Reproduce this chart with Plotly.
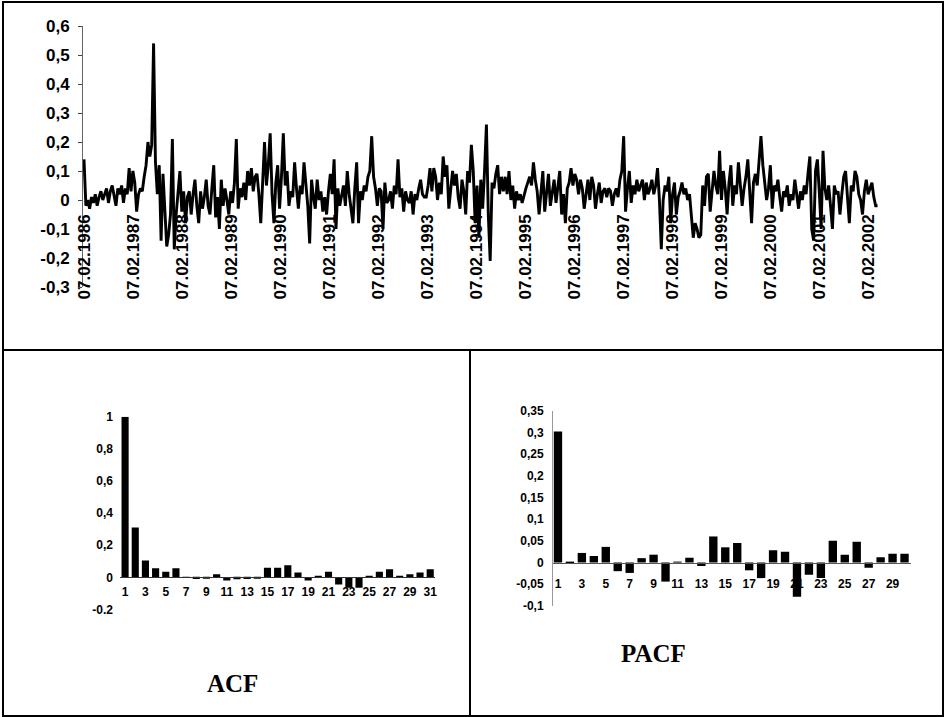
import pandas as pd
import plotly.graph_objects as go

# ---------------- data ----------------
series_start = "1986-02-07"
series_freq = "14D"
series_values = [
    # 1986
    0.14, -0.02, 0.00, -0.03, 0.01, -0.01, 0.02, -0.02, 0.01, 0.03, 0.00, 0.02, 0.04,
    -0.01, 0.03, 0.05, 0.01, -0.02, 0.04, 0.02, 0.05, -0.01, 0.04, 0.02, 0.11, 0.03,
    # 1987
    0.10, 0.06, -0.04, 0.02, 0.04, 0.03, 0.08, 0.12, 0.20, 0.15, 0.19, 0.54, 0.13,
    0.02, 0.12, -0.14, 0.09, -0.05, -0.16, -0.12, -0.05, 0.21, -0.17, -0.05, 0.02, 0.10,
    # 1988
    -0.04, 0.03, -0.08, 0.01, 0.03, -0.05, 0.02, 0.07, -0.02, -0.08, 0.03, -0.03, 0.01,
    0.07, -0.02, -0.05, 0.04, 0.12, -0.06, 0.01, -0.10, 0.07, -0.02, 0.04, 0.00, -0.05,
    # 1989
    0.03, -0.01, 0.06, 0.21, -0.03, 0.04, 0.01, 0.06, 0.00, 0.10, 0.05, 0.11, 0.03,
    0.08, 0.09, 0.02, -0.08, 0.05, 0.20, 0.05, 0.12, 0.23, 0.02, -0.08, 0.06, 0.12,
    # 1990
    -0.03, 0.08, 0.23, 0.05, 0.10, -0.02, 0.03, 0.01, 0.13, 0.04, -0.03, 0.05, 0.02,
    0.13, 0.04, -0.02, -0.15, 0.07, 0.01, -0.03, 0.07, 0.00, 0.03, -0.04, 0.01, -0.05,
    # 1991
    0.03, 0.09, 0.02, 0.14, -0.10, 0.04, -0.02, 0.01, 0.05, -0.02, 0.10, 0.02, -0.03,
    -0.08, 0.04, 0.13, -0.08, 0.03, 0.00, 0.05, 0.03, 0.08, 0.10, 0.22, 0.08, 0.04,
    # 1992
    -0.02, 0.04, 0.03, -0.10, 0.06, -0.01, 0.00, 0.03, -0.03, 0.05, 0.02, 0.14, 0.01,
    0.04, -0.04, 0.03, 0.00, -0.01, 0.03, -0.05, 0.02, 0.00, 0.04, 0.07, 0.02, 0.01,
    # 1993
    0.01, 0.05, 0.11, 0.03, 0.11, 0.08, 0.00, 0.06, 0.02, 0.15, 0.08, 0.12, -0.03,
    0.04, 0.10, 0.05, 0.09, 0.01, -0.03, 0.07, 0.03, -0.05, 0.10, 0.06, 0.19, 0.10,
    # 1994
    -0.08, 0.05, -0.13, 0.07, -0.03, 0.10, 0.26, -0.05, -0.21, 0.06, 0.04, 0.09, 0.12,
    0.02, 0.08, 0.03, 0.08, 0.02, 0.10, 0.00, 0.05, -0.03, 0.03, 0.00, 0.02, -0.01,
    # 1995
    0.02, 0.04, 0.06, 0.08, 0.05, 0.13, 0.07, 0.03, -0.05, 0.02, 0.10, -0.04, 0.03,
    0.09, -0.02, 0.03, 0.07, -0.01, 0.04, 0.10, -0.05, 0.02, -0.08, 0.04, 0.06, 0.11,
    # 1996
    0.05, 0.09, 0.07, 0.02, 0.07, 0.04, -0.03, 0.03, 0.07, 0.00, 0.08, 0.05, -0.03,
    0.02, 0.06, -0.01, 0.03, 0.04, 0.01, 0.04, 0.03, -0.02, 0.02, 0.04, 0.01, 0.07,
    # 1997
    0.10, 0.22, -0.04, 0.04, 0.10, -0.01, 0.05, 0.02, 0.07, 0.03, 0.05, 0.07, 0.00,
    0.06, 0.02, 0.04, 0.07, 0.02, 0.05, 0.11, 0.00, -0.17, 0.00, 0.05, 0.03, 0.08,
    # 1998
    -0.08, 0.02, 0.06, -0.05, 0.01, 0.03, 0.06, 0.02, 0.04, 0.00, 0.02, -0.06, -0.13,
    -0.08, -0.10, -0.13, -0.12, 0.05, -0.02, 0.08, 0.09, -0.04, 0.03, 0.10, 0.05, 0.02,
    # 1999
    0.17, 0.00, 0.10, 0.04, -0.05, 0.06, 0.12, -0.02, 0.05, 0.02, 0.13, 0.04, -0.02,
    0.04, 0.08, 0.14, 0.02, -0.08, 0.06, 0.09, 0.05, 0.14, 0.22, 0.12, 0.07, 0.00,
    # 2000
    0.04, 0.12, -0.03, 0.05, 0.03, 0.07, 0.01, -0.04, 0.03, 0.01, 0.05, -0.02, 0.02,
    0.00, 0.07, 0.02, -0.03, 0.03, 0.00, 0.05, 0.02, 0.09, 0.15, -0.10, -0.14, 0.10,
    # 2001
    0.14, 0.03, -0.10, 0.17, 0.04, 0.00, 0.05, -0.02, -0.10, 0.05, 0.02, 0.03, -0.05,
    0.02, 0.08, 0.10, 0.01, -0.08, 0.05, 0.03, 0.10, 0.08, 0.02, 0.00, -0.05, 0.03,
    # 2002
    0.07, 0.02, 0.04, 0.06, 0.01, -0.02, -0.02,
]
top_tick_dates = [f"{y}-02-07" for y in range(1986, 2003)]
top_tick_text = [f"07.02.{y}" for y in range(1986, 2003)]
top_y_ticks = [-0.3, -0.2, -0.1, 0, 0.1, 0.2, 0.3, 0.4, 0.5, 0.6]
top_y_text = ["-0,3", "-0,2", "-0,1", "0", "0,1", "0,2", "0,3", "0,4", "0,5", "0,6"]

acf_lags = list(range(1, 32))
acf_values = [1.00, 0.31, 0.105, 0.056, 0.035, 0.056, 0.004, -0.01, -0.008, 0.02,
              -0.02, -0.012, -0.01, -0.006, 0.06, 0.06, 0.075, 0.03, -0.02, 0.005,
              0.035, -0.045, -0.065, -0.065, 0.006, 0.035, 0.05, 0.01, 0.02, 0.03,
              0.05]
acf_y_ticks = [-0.2, 0, 0.2, 0.4, 0.6, 0.8, 1.0]
acf_y_text = ["-0.2", "0", "0,2", "0,4", "0,6", "0,8", "1"]

pacf_lags = list(range(1, 31))
pacf_values = [0.302, -0.003, 0.022, 0.015, 0.036, -0.02, -0.024, 0.01, 0.018, -0.044,
               0.001, 0.011, -0.008, 0.06, 0.035, 0.045, -0.018, -0.036, 0.028, 0.025,
               -0.079, -0.028, -0.036, 0.05, 0.018, 0.048, -0.012, 0.012, 0.02, 0.02]
pacf_y_ticks = [-0.1, -0.05, 0, 0.05, 0.1, 0.15, 0.2, 0.25, 0.3, 0.35]
pacf_y_text = ["-0,1", "-0,05", "0", "0,05", "0,1", "0,15", "0,2", "0,25", "0,3", "0,35"]

# ---------------- layout helpers ----------------
W, H = 946, 717


def fx(px):
    return px / W


def fy(py):
    return 1 - py / H


def zero_pos(rng, dom):
    return dom[0] + (0 - rng[0]) / (rng[1] - rng[0]) * (dom[1] - dom[0])


dates = pd.date_range(series_start, periods=len(series_values), freq=series_freq)
base = pd.Timestamp(series_start)
px_per_day = 49.06 / 365.25
x_range_top = [base - pd.Timedelta(days=2 / px_per_day), base + pd.Timedelta(days=806 / px_per_day)]

top_ydom = [fy(287), fy(26)]
top_yrng = [-0.3, 0.6]
acf_ydom = [fy(609.5), fy(416.7)]
acf_yrng = [-0.2, 1.0]
pacf_ydom = [fy(605.9), fy(410.6)]
pacf_yrng = [-0.1, 0.35]

bold_sans = dict(family="Liberation Sans, Arial", color="black", weight="bold")
common = dict(automargin=False, showgrid=False, zeroline=False)

fig = go.Figure()
fig.add_trace(go.Scatter(x=dates, y=series_values, mode="lines",
                         line=dict(color="black", width=2.9), xaxis="x", yaxis="y",
                         showlegend=False))
fig.add_trace(go.Bar(x=acf_lags, y=acf_values, marker=dict(color="black", line=dict(width=0)),
                     xaxis="x2", yaxis="y2", showlegend=False))
fig.add_trace(go.Bar(x=pacf_lags, y=pacf_values, marker=dict(color="black", line=dict(width=0)),
                     xaxis="x3", yaxis="y3", showlegend=False))

fig.update_layout(
    template="none",
    width=W, height=H, margin=dict(l=0, r=0, t=0, b=0, pad=0, autoexpand=False),
    paper_bgcolor="white", plot_bgcolor="rgba(0,0,0,0)",
    bargap=0.3,
    xaxis=dict(domain=[fx(82), fx(890)], type="date", range=x_range_top,
               anchor="free", position=zero_pos(top_yrng, top_ydom),
               tickvals=top_tick_dates, ticktext=top_tick_text, tickangle=-90,
               tickfont=dict(size=17, **bold_sans), ticks="", ticklabelstandoff=10,
               showline=False, **common),
    yaxis=dict(domain=top_ydom, range=top_yrng, anchor="free", position=fx(82),
               tickvals=top_y_ticks, ticktext=top_y_text,
               tickfont=dict(size=17, **bold_sans), ticks="outside", ticklen=4,
               tickcolor="#444", ticklabelstandoff=5,
               showline=True, linecolor="#666", linewidth=1, **common),
    xaxis2=dict(domain=[fx(120), fx(435.3)], range=[0.5, 31.5],
                anchor="free", position=zero_pos(acf_yrng, acf_ydom),
                tickvals=list(range(1, 32, 2)), ticktext=[str(v) for v in range(1, 32, 2)],
                tickfont=dict(size=12, **bold_sans), ticks="", ticklabelstandoff=3,
                showline=True, linecolor="#333", linewidth=1, **common),
    yaxis2=dict(domain=acf_ydom, range=acf_yrng, anchor="free", position=fx(119),
                tickvals=acf_y_ticks, ticktext=acf_y_text,
                tickfont=dict(size=12, **bold_sans), ticks="", ticklabelstandoff=6,
                showline=False, **common),
    xaxis3=dict(domain=[fx(552), fx(910.5)], range=[0.5, 30.5],
                anchor="free", position=zero_pos(pacf_yrng, pacf_ydom),
                tickvals=list(range(1, 30, 2)), ticktext=[str(v) for v in range(1, 30, 2)],
                tickfont=dict(size=12, **bold_sans), ticks="", ticklabelstandoff=10,
                showline=True, linecolor="#555", linewidth=1, **common),
    yaxis3=dict(domain=pacf_ydom, range=pacf_yrng, anchor="free", position=fx(552),
                tickvals=pacf_y_ticks, ticktext=pacf_y_text,
                tickfont=dict(size=12, **bold_sans), ticks="", ticklabelstandoff=6,
                showline=True, linecolor="#999", linewidth=1, **common),
)

# panel frames
frame = dict(color="black", width=2)
fig.add_shape(type="rect", xref="paper", yref="paper", x0=fx(3), x1=fx(943), y0=fy(716), y1=fy(2), line=frame)
fig.add_shape(type="line", xref="paper", yref="paper", x0=fx(3), x1=fx(943), y0=fy(350), y1=fy(350), line=frame)
fig.add_shape(type="line", xref="paper", yref="paper", x0=fx(470), x1=fx(470), y0=fy(350), y1=fy(716), line=frame)

title_font = dict(family="Liberation Serif, Times New Roman", size=25, color="black", weight="bold")
fig.add_annotation(text="ACF", xref="paper", yref="paper", x=fx(232), y=fy(683),
                   showarrow=False, font=title_font, xanchor="center", yanchor="middle")
fig.add_annotation(text="PACF", xref="paper", yref="paper", x=fx(653), y=fy(653),
                   showarrow=False, font=title_font, xanchor="center", yanchor="middle")

fig.write_html("out.html", config={"displayModeBar": False},
               post_script="document.body.style.margin='0px';")
